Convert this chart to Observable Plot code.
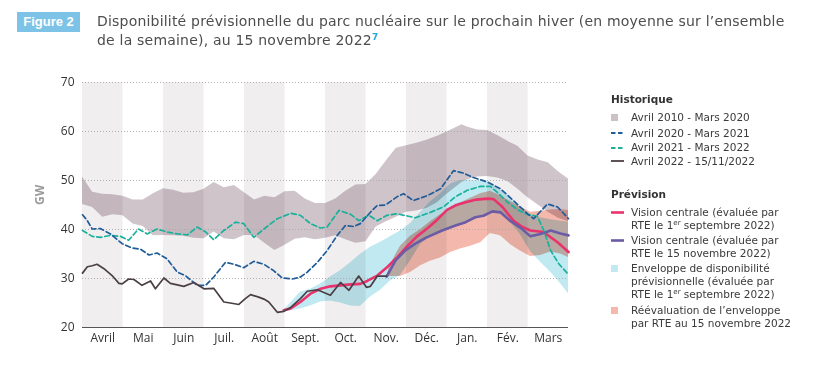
<!DOCTYPE html>
<html lang="fr">
<head>
<meta charset="utf-8">
<script src="https://cdn.jsdelivr.net/npm/d3@7"></script>
<script src="https://cdn.jsdelivr.net/npm/@observablehq/plot@0.6"></script>
<style>
  html, body { margin: 0; padding: 0; background: #fff; }
  #wrap { position: relative; width: 815px; height: 371px; overflow: hidden; }
  #chart { position: absolute; left: 0; top: 0; }
  #badge { position: absolute; left: 17px; top: 12px; width: 63px; height: 20px; background: #7dc3e7;
    color: #fff; font: bold 13px "Liberation Sans Narrow", "Liberation Sans", sans-serif; line-height: 20px; text-align: center; }
  #title { position: absolute; left: 97px; top: 12px; font: 14px "DejaVu Sans", sans-serif; letter-spacing: 0.2px; line-height: 19px;
    color: #4d4d4d; white-space: nowrap; }
  #title sup { color: #27a6df; font-weight: bold; font-size: 9px; line-height: 0; vertical-align: 5px; letter-spacing: 0; }
  .lg { position: absolute; left: 611px; font: 10.5px "DejaVu Sans", sans-serif; line-height: 13px; color: #3a3a3a; white-space: nowrap; }
  .lg.h { font-weight: bold; color: #333; }
  .lt { position: absolute; left: 631px; font: 10.5px "DejaVu Sans", sans-serif; line-height: 13px; color: #3a3a3a; white-space: nowrap; }
  .lt sup { font-size: 7px; line-height: 0; vertical-align: 4px; }
  .sw { position: absolute; left: 611px; }
</style>
</head>
<body>
<div id="wrap">
  <div id="chart"></div>
  <div id="badge">Figure 2</div>
  <div id="title">Disponibilité prévisionnelle du parc nucléaire sur le prochain hiver (en moyenne sur l’ensemble<br>de la semaine), au 15 novembre 2022<sup>7</sup></div>

  <div class="lg h" style="top:93px">Historique</div>
  <div class="sw" style="top:114px;width:7px;height:7px;background:#cbc1c7"></div>
  <div class="lt" style="top:111px">Avril 2010 - Mars 2020</div>
  <svg class="sw" style="top:131px" width="14" height="4"><line x1="0" x2="13" y1="2" y2="2" stroke="#1f5c99" stroke-width="1.8" stroke-dasharray="4.5,2.5"/></svg>
  <div class="lt" style="top:126.5px">Avril 2020 - Mars 2021</div>
  <svg class="sw" style="top:145.5px" width="14" height="4"><line x1="0" x2="13" y1="2" y2="2" stroke="#19b09c" stroke-width="1.8" stroke-dasharray="4.5,2.5"/></svg>
  <div class="lt" style="top:141px">Avril 2021 - Mars 2022</div>
  <svg class="sw" style="top:159px" width="14" height="4"><line x1="0" x2="13" y1="2" y2="2" stroke="#4a3f45" stroke-width="1.8"/></svg>
  <div class="lt" style="top:154.5px">Avril 2022 - 15/11/2022</div>

  <div class="lg h" style="top:187.5px">Prévision</div>
  <svg class="sw" style="top:210px" width="14" height="5"><line x1="0" x2="13" y1="2.5" y2="2.5" stroke="#e8336d" stroke-width="2.6"/></svg>
  <div class="lt" style="top:205.8px">Vision centrale (évaluée par<br>RTE le 1<sup>er</sup> septembre 2022)</div>
  <svg class="sw" style="top:238px" width="14" height="5"><line x1="0" x2="13" y1="2.5" y2="2.5" stroke="#6b5ca5" stroke-width="2.6"/></svg>
  <div class="lt" style="top:233.8px">Vision centrale (évaluée par<br>RTE le 15 novembre 2022)</div>
  <div class="sw" style="top:265px;width:7px;height:7px;background:#c0e9f1"></div>
  <div class="lt" style="top:261.8px">Enveloppe de disponibilité<br>prévisionnelle (évaluée par<br>RTE le 1<sup>er</sup> septembre 2022)</div>
  <div class="sw" style="top:307px;width:7px;height:7px;background:#f4b8ac"></div>
  <div class="lt" style="top:303.8px">Réévaluation de l’enveloppe<br>par RTE au 15 novembre 2022</div>
</div>
<script>
// x = months elapsed since 1 April 2022 (0 = start of April, 12 = end of March)
const months = ["Avril", "Mai", "Juin", "Juil.", "Août", "Sept.", "Oct.", "Nov.", "Déc.", "Jan.", "Fév.", "Mars"];
const yTicks = [20, 30, 40, 50, 60, 70];

// Historique : enveloppe avril 2010 - mars 2020
const histT = [0, 0.25, 0.5, 0.75, 1, 1.25, 1.5, 1.75, 2, 2.25, 2.5, 2.75, 3, 3.25, 3.5, 3.75, 4, 4.25, 4.5, 4.75,
  5, 5.25, 5.5, 5.75, 6, 6.25, 6.5, 6.75, 7, 7.25, 7.5, 7.75, 8, 8.25, 8.5, 8.75, 9, 9.37, 9.5, 9.75,
  10, 10.25, 10.5, 10.75, 11, 11.25, 11.5, 11.75, 12];
const histHigh = [50.7, 47.6, 47.2, 47.1, 46.8, 46.0, 46.0, 47.3, 48.3, 48.0, 47.4, 47.5, 48.2, 49.6, 48.5, 49.0, 47.5, 46.0, 46.8, 46.5,
  47.7, 47.8, 46.2, 45.3, 45.3, 46.2, 47.8, 49.1, 49.2, 51.2, 54.0, 56.6, 57.1, 57.6, 58.2, 59.0, 59.9, 61.4, 60.9, 60.3,
  60.2, 59.2, 58.0, 57.0, 55.0, 54.2, 53.6, 51.8, 50.3];
const histLow = [45.1, 44.5, 42.5, 43.0, 42.8, 41.1, 40.6, 38.7, 38.8, 38.7, 38.6, 38.2, 38.1, 39.5, 38.1, 37.9, 38.8, 38.8, 37.2, 35.7,
  36.8, 38.0, 38.3, 37.9, 38.2, 38.7, 37.9, 37.2, 37.5, 40.5, 41.6, 42.5, 43.5, 43.8, 44.3, 45.4, 47.2, 49.6, 50.1, 50.7,
  50.8, 50.5, 49.8, 48.2, 46.5, 45.0, 43.5, 42.3, 41.6];

// Avril 2020 - Mars 2021
const y2020T = [0, 0.12, 0.24, 0.44, 0.69, 0.98, 1.23, 1.43, 1.64, 1.84, 2.09, 2.34, 2.54, 2.83, 3.04, 3.24, 3.53, 3.74, 3.98, 4.23,
  4.48, 4.72, 4.93, 5.18, 5.38, 5.55, 5.80, 6.04, 6.29, 6.49, 6.70, 6.86, 7.15, 7.28, 7.48, 7.77, 7.93, 8.17, 8.51, 8.84,
  9.16, 9.41, 9.65, 10.0, 10.32, 10.64, 10.99, 11.14, 11.48, 11.73, 12.0];
const y2020V = [43.0, 41.8, 40.1, 40.2, 39.1, 37.1, 36.2, 36.0, 34.8, 35.2, 34.0, 31.3, 30.6, 28.6, 28.6, 30.3, 33.3, 32.9, 32.2, 33.5,
  32.9, 31.6, 30.1, 29.9, 30.3, 31.3, 33.3, 35.7, 38.8, 40.8, 40.6, 41.2, 43.9, 44.9, 45.0, 46.7, 47.3, 45.9, 46.9, 48.3,
  52.0, 51.5, 50.6, 49.7, 48.3, 45.9, 43.2, 42.2, 45.2, 44.6, 42.2];

// Avril 2021 - Mars 2022
const y2021T = [0, 0.24, 0.44, 0.69, 0.94, 1.14, 1.38, 1.60, 1.84, 2.09, 2.34, 2.59, 2.83, 3.04, 3.24, 3.49, 3.78, 3.98, 4.23, 4.48,
  4.81, 5.14, 5.38, 5.63, 5.88, 6.04, 6.33, 6.62, 6.82, 7.07, 7.28, 7.52, 7.77, 8.05, 8.22, 8.59, 8.91, 9.21, 9.50, 9.83,
  10.07, 10.24, 10.49, 10.77, 10.98, 11.23, 11.39, 11.56, 11.76, 12.0];
const y2021V = [39.8, 38.6, 38.4, 38.8, 38.6, 37.8, 40.1, 39.1, 40.1, 39.5, 39.1, 38.9, 40.5, 39.5, 37.9, 39.8, 41.5, 41.2, 38.4, 40.1,
  42.2, 43.3, 42.9, 41.2, 40.3, 40.5, 43.9, 43.1, 41.8, 42.9, 41.8, 42.9, 43.2, 42.7, 42.4, 43.5, 44.6, 46.7, 48.0, 48.8,
  48.8, 47.6, 45.6, 43.9, 43.1, 42.7, 39.8, 35.7, 33.0, 30.8];

// Avril 2022 - 15/11/2022
const y2022T = [0, 0.12, 0.24, 0.36, 0.53, 0.73, 0.90, 0.98, 1.14, 1.27, 1.47, 1.68, 1.80, 2.01, 2.17, 2.34, 2.50, 2.75, 3.0, 3.24,
  3.49, 3.65, 3.86, 4.02, 4.15, 4.35, 4.48, 4.60, 4.81, 4.97, 5.14, 5.38, 5.55, 5.80, 6.12, 6.37, 6.58, 6.82, 7.01, 7.11,
  7.28, 7.51];
const y2022V = [31.1, 32.4, 32.6, 32.9, 32.0, 30.6, 29.0, 28.9, 29.9, 29.8, 28.6, 29.5, 27.9, 30.1, 29.0, 28.7, 28.4, 29.2, 27.9, 28.0,
  25.2, 25.0, 24.7, 25.9, 26.7, 26.2, 25.8, 25.2, 23.1, 23.3, 24.1, 25.9, 27.4, 27.7, 26.6, 29.2, 27.6, 30.5, 28.2, 28.4,
  30.5, 30.5];

// Prévision : vision centrale au 1er septembre 2022
const sepT = [4.97, 5.14, 5.38, 5.63, 5.88, 6.12, 6.37, 6.62, 6.86, 7.03, 7.28, 7.52, 7.77, 8.02, 8.26, 8.51, 8.76, 9.0, 9.23, 9.48,
  9.73, 10.0, 10.15, 10.37, 10.64, 10.86, 11.06, 11.38, 11.73, 12.0];
const sepV = [23.5, 23.9, 25.2, 26.9, 27.9, 28.4, 28.6, 28.8, 28.9, 29.5, 30.6, 32.3, 34.3, 36.6, 38.6, 40.2, 42.0, 44.0, 45.0, 45.6,
  46.1, 46.3, 46.2, 44.6, 41.8, 40.5, 39.8, 39.5, 37.4, 35.4];

// Prévision : vision centrale au 15 novembre 2022
const novT = [7.51, 7.73, 7.98, 8.22, 8.47, 8.88, 9.21, 9.46, 9.70, 9.90, 10.12, 10.32, 10.57, 10.81, 11.06, 11.31, 11.56, 11.80, 12.0];
const novV = [30.4, 33.7, 35.8, 37.1, 38.3, 39.8, 40.8, 41.5, 42.5, 42.8, 43.7, 43.5, 41.7, 40.4, 38.6, 39.1, 39.8, 39.2, 38.8];

// Enveloppe (1er septembre 2022)
const envSepT = [4.97, 5.14, 5.38, 5.63, 5.88, 6.12, 6.37, 6.62, 6.86, 7.11, 7.36, 7.60, 7.85, 8.10, 8.35, 8.59, 8.84, 9.09, 9.33, 9.58,
  9.83, 10.07, 10.32, 10.57, 10.81, 11.06, 11.31, 11.56, 11.80, 12.0];
const envSepHigh = [23.5, 25.0, 27.2, 27.8, 28.9, 30.3, 31.6, 33.2, 34.9, 36.4, 37.4, 38.5, 39.7, 41.2, 43.5, 45.6, 47.3, 49.3, 50.0, 50.1,
  49.9, 49.5, 48.0, 46.3, 44.6, 43.0, 42.4, 42.0, 41.7, 41.5];
const envSepLow = [23.1, 23.4, 23.8, 24.4, 25.2, 25.4, 25.0, 24.4, 24.3, 26.2, 27.6, 29.5, 30.6, 33.6, 37.0, 38.5, 39.6, 40.4, 41.1, 42.0,
  42.6, 43.2, 43.3, 41.5, 39.0, 35.5, 33.3, 31.3, 29.0, 26.9];

// Réévaluation de l'enveloppe (15 novembre 2022)
const envNovT = [7.51, 7.60, 7.85, 8.10, 8.35, 8.59, 8.84, 9.09, 9.33, 9.58, 9.83, 10.07, 10.32, 10.57, 10.81, 11.06, 11.31, 11.56, 11.80, 12.0];
const envNovHigh = [30.5, 32.8, 36.6, 38.6, 40.0, 41.6, 43.0, 44.3, 45.4, 46.4, 47.3, 47.8, 46.9, 45.7, 44.6, 43.5, 43.7, 44.0, 44.1, 43.9];
const envNovLow = [30.4, 30.4, 30.4, 31.2, 32.6, 33.5, 34.2, 35.3, 36.0, 36.6, 37.3, 39.2, 38.7, 36.9, 35.6, 34.5, 34.7, 35.4, 35.0, 34.3];

const band = (T, lo, hi) => T.map((t, i) => ({t, lo: lo[i], hi: hi[i]}));
const series = (T, V) => T.map((t, i) => ({t, v: V[i]}));
const shaded = months.map((m, i) => i).filter(i => i % 2 === 0);

const chart = Plot.plot({
  width: 815,
  height: 371,
  marginLeft: 82,
  marginRight: 247,
  marginTop: 82,
  marginBottom: 44,
  x: {domain: [0, 12]},
  y: {domain: [20, 70]},
  style: {fontFamily: "'Open Sans', sans-serif", fontSize: "12px", color: "#333", background: "transparent"},
  marks: [
    Plot.rect(shaded, {x1: d => d, x2: d => d + 1, y1: () => 20, y2: () => 70, fill: "#f0eeef"}),
    Plot.areaY(band(envSepT, envSepLow, envSepHigh), {x: "t", y1: "lo", y2: "hi", fill: "#c0e9f1", mixBlendMode: "multiply"}),
    Plot.areaY(band(envNovT, envNovLow, envNovHigh), {x: "t", y1: "lo", y2: "hi", fill: "#f4b8ac", mixBlendMode: "multiply"}),
    Plot.areaY(band(histT, histLow, histHigh), {x: "t", y1: "lo", y2: "hi", fill: "#cfc4ca", mixBlendMode: "multiply"}),
    Plot.gridY(yTicks.slice(1), {stroke: "#a8a8a8", strokeOpacity: 1, strokeWidth: 0.9, strokeDasharray: "1,2"}),
    Plot.ruleY([20], {stroke: "#555", strokeWidth: 1.2}),
    Plot.line(series(sepT, sepV), {x: "t", y: "v", stroke: "#e8336d", strokeWidth: 2.6}),
    Plot.line(series(novT, novV), {x: "t", y: "v", stroke: "#6b5ca5", strokeWidth: 2.6}),
    Plot.line(series(y2021T, y2021V), {x: "t", y: "v", stroke: "#19b09c", strokeWidth: 1.7, strokeDasharray: "5,3"}),
    Plot.line(series(y2020T, y2020V), {x: "t", y: "v", stroke: "#1f5c99", strokeWidth: 1.7, strokeDasharray: "5,3"}),
    Plot.line(series(y2022T, y2022V), {x: "t", y: "v", stroke: "#4a3f45", strokeWidth: 1.7}),
    Plot.axisY(yTicks, {tickSize: 0, tickPadding: 8, label: null, fontSize: 12}),
    Plot.axisX(months.map((m, i) => i + 0.5), {tickFormat: d => months[Math.floor(d)], tickSize: 0, tickPadding: 6, label: null, fontSize: 12}),
    Plot.text(["GW"], {frameAnchor: "left", dx: -42, rotate: -90, fill: "#9a9a9a", fontWeight: "bold", fontSize: 12})
  ]
});
chart.querySelectorAll('g[aria-label="area"]').forEach(g => g.style.mixBlendMode = "multiply");
document.getElementById("chart").appendChild(chart);
</script>
</body>
</html>
